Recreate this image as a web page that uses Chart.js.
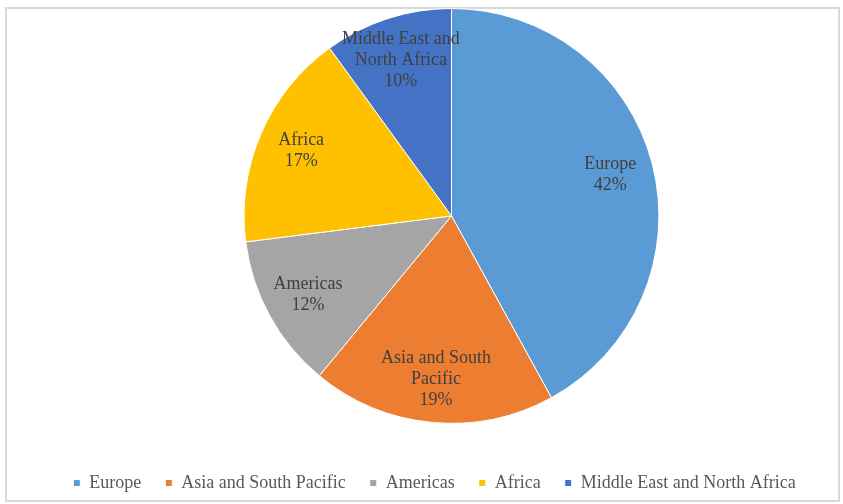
<!DOCTYPE html>
<html>
<head>
<meta charset="utf-8">
<script src="https://cdn.jsdelivr.net/npm/chart.js@4"></script>
<style>
  html, body { margin: 0; padding: 0; background: #fff; }
  #wrap { width: 843px; height: 504px; position: relative; }
</style>
</head>
<body>
<div id="wrap"><canvas id="pie" width="843" height="504"></canvas></div>
<script>
/* ===== data ===== */
const regions = ["Europe", "Asia and South Pacific", "Americas", "Africa", "Middle East and North Africa"];
const shares = [42, 19, 12, 17, 10];
const sliceLabels = [
  ["Europe", "42%"],
  ["Asia and South", "Pacific", "19%"],
  ["Americas", "12%"],
  ["Africa", "17%"],
  ["Middle East and", "North Africa", "10%"]
];
const colors = ["#5B9BD5", "#ED7D31", "#A5A5A5", "#FFC000", "#4472C4"];

const SERIF = "'Liberation Serif', 'Times New Roman', serif";

/* ===== frame border ===== */
const frame = {
  id: "frame",
  beforeDraw(chart) {
    const c = chart.ctx;
    c.save();
    c.strokeStyle = "#d9d9d9";
    c.lineWidth = 2;
    c.beginPath();
    c.rect(6, 8, chart.width - 10, chart.height - 11);
    c.stroke();
    c.restore();
  }
};

/* ===== legend sits a bit left of the pie centre ===== */
const legendShift = {
  id: "legendShift",
  afterLayout(chart) {
    chart.legend.left -= 17;
    chart.legend.right -= 17;
  }
};

/* ===== labels inside slices ===== */
const sliceText = {
  id: "sliceText",
  afterDatasetsDraw(chart) {
    const c = chart.ctx;
    const arcs = chart.getDatasetMeta(0).data;
    c.save();
    c.font = "18px " + SERIF;
    c.fillStyle = "#404040";
    c.textAlign = "center";
    c.textBaseline = "middle";
    arcs.forEach((arc, i) => {
      const p = arc.getProps(["x", "y", "startAngle", "endAngle", "outerRadius"], true);
      const mid = (p.startAngle + p.endAngle) / 2;
      const r = p.outerRadius * 0.79;
      const x = p.x + Math.cos(mid) * r;
      const y = p.y + Math.sin(mid) * r;
      const lines = sliceLabels[i];
      const lh = 21;
      lines.forEach((t, k) => {
        c.fillText(t, x, y + (k - (lines.length - 1) / 2) * lh);
      });
    });
    c.restore();
  }
};

function draw() {
  new Chart(document.getElementById("pie"), {
    type: "pie",
    data: {
      labels: regions,
      datasets: [{
        data: shares,
        backgroundColor: colors,
        borderColor: "#ffffff",
        borderWidth: 1
      }]
    },
    options: {
      responsive: false,
      animation: false,
      layout: { padding: { top: 8, left: 60, right: 0, bottom: 2 } },
      plugins: {
        tooltip: { enabled: false },
        legend: {
          position: "bottom",
          title: { display: true, text: " ", font: { size: 1 }, padding: { top: 0, bottom: 25 } },
          labels: {
            usePointStyle: true,
            pointStyle: "rect",
            boxWidth: 7,
            boxHeight: 7,
            padding: 24,
            color: "#595959",
            font: { family: SERIF, size: 18 }
          }
        }
      }
    },
    plugins: [frame, legendShift, sliceText]
  });
}

document.fonts.load("18px 'Liberation Serif'").then(draw, draw);
</script>
</body>
</html>
